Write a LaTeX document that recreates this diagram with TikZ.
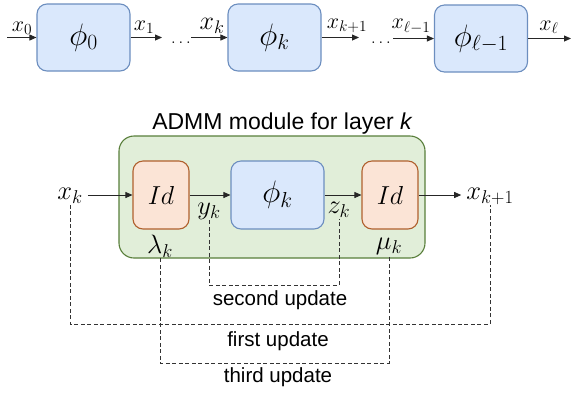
\documentclass[tikz,border=0pt]{standalone}
\usepackage{fix-cm}
\usepackage{fontspec}
\newfontfamily\arialf{Liberation Sans}
\usetikzlibrary{arrows.meta}
\definecolor{blueF}{HTML}{DAE8FC}
\definecolor{blueS}{HTML}{6C8EBF}
\definecolor{orF}{HTML}{FBE4D6}
\definecolor{orS}{HTML}{B0602E}
\definecolor{grF}{HTML}{E1EED9}
\definecolor{grS}{HTML}{587E3A}
\tikzset{
 pbox/.style={draw=blueS, fill=blueF, line width=1.1pt, rounded corners=10pt, minimum width=93pt, minimum height=67pt, inner sep=0pt, font=\fontsize{31}{35}\selectfont},
 idbox/.style={draw=orS, fill=orF, line width=1.1pt, rounded corners=10pt, minimum width=56pt, minimum height=68pt, inner sep=0pt, font=\fontsize{26}{30}\selectfont},
 gbox/.style={draw=grS, fill=grF, line width=1.1pt, rounded corners=15pt, minimum width=306pt, minimum height=122pt, inner sep=0pt},
 lab/.style={inner sep=1pt, font=\fontsize{22}{26}\selectfont},
 dots/.style={inner sep=0pt, font=\fontsize{17}{20}\selectfont},
 blab/.style={inner sep=1pt, font=\fontsize{26.5}{30}\selectfont},
 conn/.style={draw=black!85, line width=0.8pt, -{Triangle[length=7pt,width=6pt]}},
 dsh/.style={draw=black!80, line width=0.8pt, dash pattern=on 4pt off 2.5pt},
 upd/.style={font=\arialf\fontsize{20.5}{24}\selectfont, inner sep=0pt}
}
\begin{document}
\begin{tikzpicture}[x=1pt,y=-1pt]
\useasboundingbox (0,0) rectangle (572,392);
% top row
\node[pbox] (p0) at (83.5,37.5) {$\phi_0$};
\node[pbox] (pk) at (274.5,37.5) {$\phi_k$};
\node[pbox] (pl) at (481,38.5) {$\phi_{\ell-1}$};
\coordinate (a0) at (7,37.5);
\coordinate (a1) at (162,37.5);
\coordinate (a2) at (191,37.5);
\coordinate (a3) at (359,37.5);
\coordinate (a4) at (393,38.5);
\coordinate (a5) at (571,38.5);
\draw[conn] (a0) -- (p0);
\draw[conn] (p0) -- (a1);
\draw[conn] (a2) -- (pk);
\draw[conn] (pk) -- (a3);
\draw[conn] (a4) -- (pl);
\draw[conn] (pl) -- (a5);
\node[lab, anchor=south] (l0) at (22,36) {$x_0$};
\node[lab, anchor=south] (l1) at (144,35) {$x_1$};
\node[lab, anchor=south, font=\fontsize{26}{30}\selectfont] (l2) at (212,35) {$x_k$};
\node[lab, anchor=south] (l3) at (347,34) {$x_{k+1}$};
\node[lab, anchor=south] (l4) at (411,34.5) {$x_{\ell-1}$};
\node[lab, anchor=south] (l5) at (549,34.5) {$x_{\ell}$};
\node[dots, anchor=base] (d1) at (181,43) {$\ldots$};
\node[dots, anchor=base] (d2) at (381,43) {$\ldots$};
% bottom module
\node[gbox] (g) at (272,197) {};
\node[anchor=base, inner sep=0pt, font=\arialf\fontsize{23}{27}\selectfont] (t) at (282.5,129) {ADMM module for layer \textit{k}};
\node[idbox] (id1) at (161,195) {$Id$};
\node[pbox, minimum height=68pt] (ph) at (277.5,195) {$\phi_k$};
\node[idbox] (id2) at (390,195) {$Id$};
\node[blab] (xk) at (70,196) {$x_k$};
\node[blab] (xk1) at (490,196) {$x_{k+1}$};
\node[blab] (yk) at (209,211) {$y_k$};
\node[blab] (zk) at (339,210) {$z_k$};
\node[blab] (lam) at (160,246) {$\lambda_k$};
\node[blab] (mu) at (389,246) {$\mu_k$};
\draw[conn] ([xshift=4pt]xk.east |- id1) -- (id1.west);
\draw[conn] (id1) -- (ph);
\draw[conn] (ph) -- (id2);
\draw[conn] (id2.east) -- ([xshift=-4pt]xk1.west |- id2);
% update loops
\draw[dsh] (yk.south) -- (yk.south |- 0,285) -| (zk.south);
\draw[dsh] (xk.south) -- (xk.south |- 0,324) -| (xk1.south);
\draw[dsh] (lam.south) -- (lam.south |- 0,363) -| (mu.south);
\node[upd] (su) at (280,300) {second update};
\node[upd] (fu) at (278,341) {first update};
\node[upd] (tu) at (278,377) {third update};
\end{tikzpicture}
\end{document}
